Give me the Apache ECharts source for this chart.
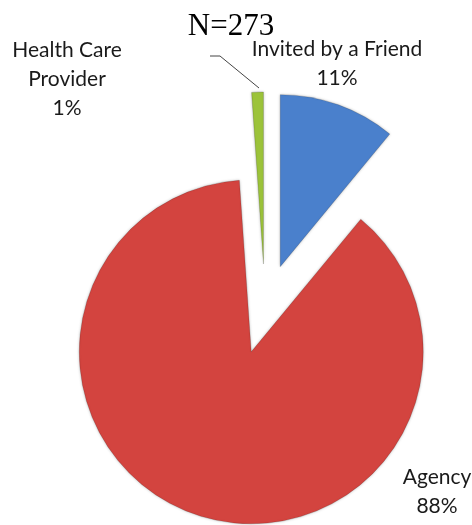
<!DOCTYPE html>
<html>
<head>
<meta charset="utf-8">
<script src="https://cdn.jsdelivr.net/npm/echarts@6/dist/echarts.min.js"></script>
<style>
html,body{margin:0;padding:0;background:#fff;}
#chart{width:472px;height:525px;}
</style>
</head>
<body>
<div id="chart"></div>
<script>
const subtitleText = 'N=273';
const categories = ['Invited by a Friend', 'Agency', 'Health Care Provider'];
const labelNames = ['Invited by a Friend', 'Agency', 'Health Care\nProvider'];
const counts = [30, 240, 3];
const colors = ['#4A80CC', '#D3443F', '#9CC33A'];

const total = counts.reduce((a, b) => a + b, 0);
const labelSpots = [[337, 64], [437, 492], [67, 79]];
const leaderPoints = [[259, 88], [220, 56], [210, 56]];

const labelFont = {fontFamily: 'Lato', fontSize: 21, lineHeight: 29, fill: '#1a1a1a', align: 'center', verticalAlign: 'middle'};

const chart = echarts.init(document.getElementById('chart'), null, {renderer: 'canvas'});
const graphics = categories.map((c, i) => ({
  type: 'text',
  x: labelSpots[i][0],
  y: labelSpots[i][1],
  style: Object.assign({text: labelNames[i] + '\n' + Math.round(counts[i] / total * 100) + '%'}, labelFont)
}));
graphics.push({
  type: 'polyline',
  shape: {points: leaderPoints},
  style: {stroke: '#444', lineWidth: 1, fill: null}
});

chart.setOption({
  animation: false,
  backgroundColor: '#ffffff',
  title: {
    text: subtitleText,
    left: 226,
    top: 6,
    textAlign: 'center',
    textStyle: {fontFamily: 'Liberation Serif', fontSize: 31, fontWeight: 'normal', color: '#000'}
  },
  graphic: graphics,
  series: [{
    type: 'pie',
    center: [265, 309],
    radius: [0, 172],
    startAngle: 90,
    clockwise: true,
    selectedMode: 'multiple',
    selectedOffset: 45,
    label: {show: false},
    labelLine: {show: false},
    itemStyle: {borderColor: 'rgba(0,0,0,0.15)', borderWidth: 1, shadowBlur: 3, shadowColor: 'rgba(0,0,0,0.25)'},
    emphasis: {disabled: true},
    data: categories.map((c, i) => ({
      name: c,
      value: counts[i],
      selected: true,
      itemStyle: {color: colors[i]}
    }))
  }]
});
</script>
</body>
</html>
